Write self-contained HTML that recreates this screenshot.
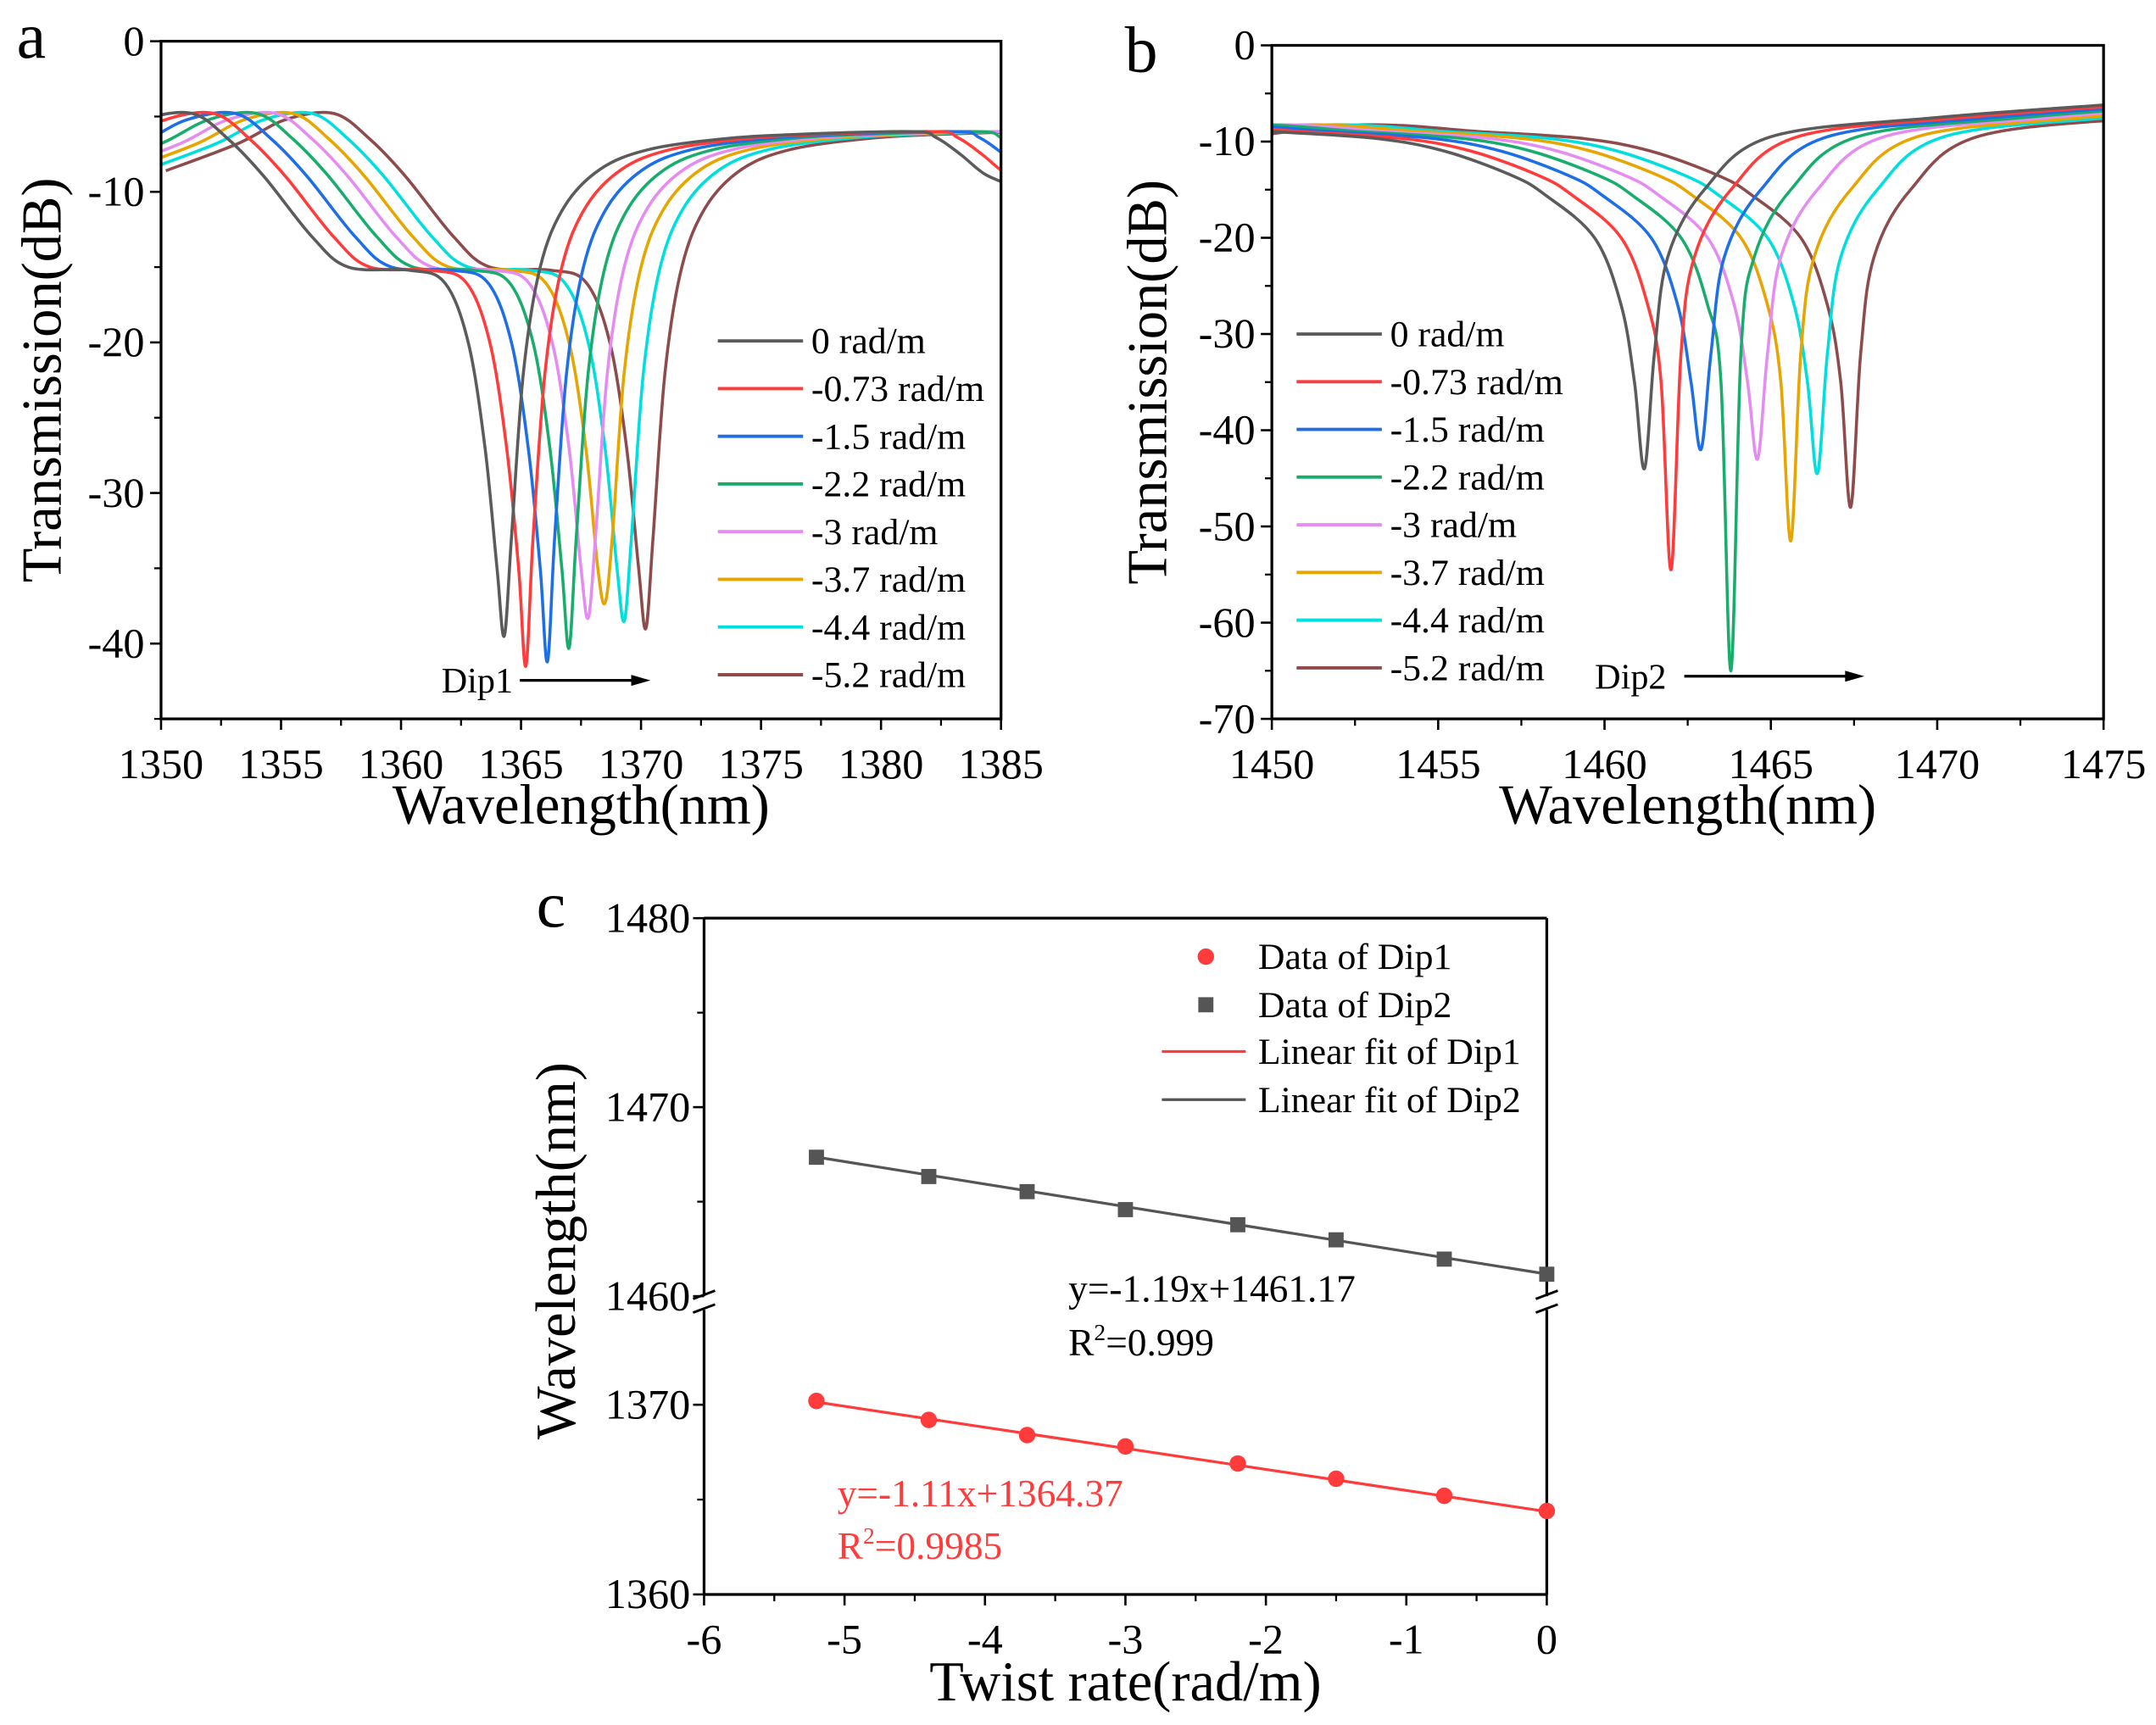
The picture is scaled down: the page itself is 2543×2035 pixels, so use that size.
<!DOCTYPE html>
<html><head><meta charset="utf-8"><style>
html,body{margin:0;padding:0;background:#fff;}
svg{display:block;}
svg text{font-family:"Liberation Serif","DejaVu Serif",serif;}
</style></head><body>
<svg id="fig" width="2543" height="2035" viewBox="0 0 1568 1255" xmlns="http://www.w3.org/2000/svg" font-family="Liberation Serif, serif">
<rect width="1568" height="1255" fill="#fff"/>
<g id="pa"></g>
<g id="pb"></g>
<g id="pc"></g>
</svg>
<script>
// ---- shared data ----
const seriesLabels = ["0 rad/m","-0.73 rad/m","-1.5 rad/m","-2.2 rad/m","-3 rad/m","-3.7 rad/m","-4.4 rad/m","-5.2 rad/m"];
const seriesColors = ["#5b5b5b","#ff3b3b","#1e6fe6","#19ad6d","#e48cf2","#e6a500","#00dede","#8e4b4b"];
// panel a
const aDipCenters = [1364.3,1365.2,1366.1,1367.0,1367.8,1368.5,1369.3,1370.2];
const aDipDepths = [-39.5,-41.5,-41.2,-40.3,-38.3,-37.3,-38.5,-39.0];
const aProfileOffsets = [-20,-17,-15,-13,-11.5,-10,-8,-6.5,-4,-2.5,-1.5,-0.8,-0.3,0,0.3,0.8,1.5,2.5,4,6,9,12,17,18,19,20,21];
const aProfileLevels  = [-8.6,-6.8,-5.2,-4.8,-6.5,-9,-13,-15,-15.2,-16,-20,-27,-35,null,-33,-22,-15,-11,-8.5,-7.2,-6.5,-6.2,-6,-6.4,-7.5,-8.8,-9.5];
const aXTicks = [1350,1355,1360,1365,1370,1375,1380,1385];
const aYTicks = [0,-10,-20,-30,-40];
// panel b
const bDipCenters = [1461.2,1462.0,1462.9,1463.8,1464.6,1465.6,1466.4,1467.4];
const bDipDepths = [-44,-54.5,-42,-65,-43,-51.5,-44.5,-48];
const bProfileOffsets = [-20,-15,-11,-8,-6,-4,-3,-1.5,-0.7,-0.3,0,0.3,0.7,1.8,3.8,8.8,13.8];
const bProfileLevels  = [-10.5,-8.3,-9,-9.7,-11,-13.5,-15.5,-20,-27,-35,null,-32,-22,-15,-9.5,-7.5,-6.2];
const bXTicks = [1450,1455,1460,1465,1470,1475];
const bYTicks = [0,-10,-20,-30,-40,-50,-60,-70];
// panel c
const twistRates = [-5.2,-4.4,-3.7,-3,-2.2,-1.5,-0.73,0];
const dip1Wavelengths = [1370.2,1369.2,1368.4,1367.8,1366.9,1366.1,1365.2,1364.4];
const dip2Wavelengths = [1467.35,1466.33,1465.53,1464.58,1463.78,1462.98,1461.96,1461.16];
const fit1 = [-1.11,1364.37];
const fit2 = [-1.19,1461.17];
const cXTicks = [-6,-5,-4,-3,-2,-1,0];
const cYTicksUpper = [1480,1470,1460];
const cYTicksLower = [1370,1360];

const NS="http://www.w3.org/2000/svg";
const TICK=31, LEG=27, TITLE=41, LET=48;
function mk(parent,tag,attrs,text){const e=document.createElementNS(NS,tag);for(const k in attrs)e.setAttribute(k,attrs[k]);if(text!==undefined)e.textContent=text;parent.appendChild(e);return e;}
function smooth(pts){let d="M"+pts[0][0].toFixed(2)+","+pts[0][1].toFixed(2);for(let i=0;i<pts.length-1;i++){const p0=pts[i-1]||pts[i],p1=pts[i],p2=pts[i+1],p3=pts[i+2]||p2;const c1=[p1[0]+(p2[0]-p0[0])/6,p1[1]+(p2[1]-p0[1])/6],c2=[p2[0]-(p3[0]-p1[0])/6,p2[1]-(p3[1]-p1[1])/6];d+=" C"+c1[0].toFixed(2)+","+c1[1].toFixed(2)+" "+c2[0].toFixed(2)+","+c2[1].toFixed(2)+" "+p2[0].toFixed(2)+","+p2[1].toFixed(2);}return d;}

function spectrumPanel(g,o){
  const {x0,x1,y0,y1,xmin,xmax,ymin,ymax}=o;
  const X=v=>x0+(v-xmin)/(xmax-xmin)*(x1-x0);
  const Y=v=>y0+(ymax-v)/(ymax-ymin)*(y1-y0);
  const clip=mk(g,"clipPath",{id:o.id+"clip"});mk(clip,"rect",{x:x0,y:y0,width:x1-x0,height:y1-y0});
  const cg=mk(g,"g",{"clip-path":"url(#"+o.id+"clip)"});
  for(let s=o.centers.length-1;s>=0;s--){
    const pts=[];
    for(let i=0;i<o.offsets.length;i++){const lv=o.levels[i]===null?o.depths[s]:o.levels[i];pts.push([X(o.centers[s]+o.offsets[i]),Y(lv)]);}
    const p=mk(cg,"path",{d:smooth(pts),fill:"none",stroke:seriesColors[s],"stroke-width":2.2,"stroke-linejoin":"round"});
    
    
  }
  const fr=mk(g,"rect",{x:x0,y:y0,width:x1-x0,height:y1-y0,fill:"none",stroke:"#000","stroke-width":2});
  
  o.xt.forEach((v,i)=>{const x=X(v);mk(g,"line",{x1:x,x2:x,y1:y1,y2:y1+8,stroke:"#000","stroke-width":1.6});
    if(i<o.xt.length-1){const xm=X(v+(o.xt[1]-o.xt[0])/2);mk(g,"line",{x1:xm,x2:xm,y1:y1,y2:y1+5,stroke:"#000","stroke-width":1.4});}
    const t=mk(g,"text",{x:x,y:y1+43,"text-anchor":"middle","font-size":TICK},String(v));
    });
  o.yt.forEach((v,i)=>{const y=Y(v);mk(g,"line",{x1:x0-8,x2:x0,y1:y,y2:y,stroke:"#000","stroke-width":1.6});
    const ym=Y(v-5);if(v-5>=ymin)mk(g,"line",{x1:x0-5,x2:x0,y1:ym,y2:ym,stroke:"#000","stroke-width":1.4});
    const t=mk(g,"text",{x:x0-12,y:y+10,"text-anchor":"end","font-size":TICK},String(v));
    });
  const xt=mk(g,"text",{x:(x0+x1)/2,y:y1+76,"text-anchor":"middle","font-size":TITLE},"Wavelength(nm)");
  
  const yt=mk(g,"text",{x:0,y:0,"text-anchor":"middle","font-size":TITLE,transform:"translate("+(o.ytx)+","+((y0+y1)/2)+") rotate(-90)"},"Transmission(dB)");
  
  const pl=mk(g,"text",{x:o.lx,y:o.ly,"font-size":LET},o.letter);
  
  seriesLabels.forEach((lab,i)=>{const y=o.legY+i*o.legStep;
    const lg=mk(g,"g",{});
    mk(lg,"line",{x1:o.legX,x2:o.legX+62,y1:y,y2:y,stroke:seriesColors[i],"stroke-width":2.4});
    mk(lg,"text",{x:o.legX+68,y:y+9,"font-size":LEG},lab);});
  const dl=mk(g,"text",{x:o.dipX,y:o.dipY+9,"font-size":26},o.dipLabel);
  
  const ar=mk(g,"g",{});
  mk(ar,"line",{x1:o.arX0,x2:o.arX1-10,y1:o.dipY,y2:o.dipY,stroke:"#000","stroke-width":2});
  mk(ar,"polygon",{points:(o.arX1)+","+o.dipY+" "+(o.arX1-14)+","+(o.dipY-4)+" "+(o.arX1-14)+","+(o.dipY+4),fill:"#000"});
}

spectrumPanel(document.getElementById("pa"),{id:"a",x0:117,x1:728,y0:30,y1:523,xmin:1350,xmax:1385,ymin:-45,ymax:0,
  centers:aDipCenters,depths:aDipDepths,offsets:aProfileOffsets,levels:aProfileLevels,xt:aXTicks,yt:aYTicks,
  ytx:44,lx:12,ly:42,letter:"a",legX:522,legY:248,legStep:34.7,dipX:321,dipY:495,dipLabel:"Dip1",arX0:378,arX1:473});
spectrumPanel(document.getElementById("pb"),{id:"b",x0:925,x1:1530,y0:33,y1:523,xmin:1450,xmax:1475,ymin:-70,ymax:0,
  centers:bDipCenters,depths:bDipDepths,offsets:bProfileOffsets,levels:bProfileLevels,xt:bXTicks,yt:bYTicks,
  ytx:848,lx:818,ly:52,letter:"b",legX:943,legY:243,legStep:34.7,dipX:1160,dipY:492,dipLabel:"Dip2",arX0:1225,arX1:1356});

// ---- panel c ----
(function(){
  const g=document.getElementById("pc");
  const x0=512,x1=1125,yT=668,yB=1160;
  const X=v=>x0+(v+6)/6*(x1-x0);
  const Y=v=>v>=1420?943-(v-1460)*13.75:1160-(v-1360)*13.8;
  const yBrkU=943,yBrkL=953;
  [x0,x1].forEach(a=>{mk(g,"line",{x1:a,x2:a,y1:yT,y2:yBrkU,stroke:"#000","stroke-width":2});mk(g,"line",{x1:a,x2:a,y1:yBrkL,y2:yB,stroke:"#000","stroke-width":2});
    mk(g,"line",{x1:a-8,x2:a+8,y1:yBrkU+2,y2:yBrkU-4,stroke:"#000","stroke-width":1.8});mk(g,"line",{x1:a-8,x2:a+8,y1:yBrkL+2,y2:yBrkL-4,stroke:"#000","stroke-width":1.8});});
  mk(g,"line",{x1:x0,x2:x1,y1:yT,y2:yT,stroke:"#000","stroke-width":2});
  mk(g,"line",{x1:x0,x2:x1,y1:yB,y2:yB,stroke:"#000","stroke-width":2});
  cXTicks.forEach((v,i)=>{const x=X(v);mk(g,"line",{x1:x,x2:x,y1:yB,y2:yB+8,stroke:"#000","stroke-width":1.6});
    if(i<cXTicks.length-1){const xm=X(v+0.5);mk(g,"line",{x1:xm,x2:xm,y1:yB,y2:yB+5,stroke:"#000","stroke-width":1.4});}
    const t=mk(g,"text",{x:x,y:yB+43,"text-anchor":"middle","font-size":TICK},String(v));
    });
  cYTicksUpper.concat(cYTicksLower).forEach(v=>{const y=Y(v);mk(g,"line",{x1:x0-8,x2:x0,y1:y,y2:y,stroke:"#000","stroke-width":1.6});
    const t=mk(g,"text",{x:x0-10,y:y+10,"text-anchor":"end","font-size":TICK},String(v));
    });
  [1475,1465,1365].forEach(v=>{const y=Y(v);mk(g,"line",{x1:x0-5,x2:x0,y1:y,y2:y,stroke:"#000","stroke-width":1.4});});
  [[fit1,"#ff3b3b","linear-fit-dip1"],[fit2,"#555","linear-fit-dip2"]].forEach(([f,c,n])=>{
    const xa=twistRates[0],xb=twistRates[twistRates.length-1];
    const l=mk(g,"line",{x1:X(xa),y1:Y(f[0]*xa+f[1]),x2:X(xb),y2:Y(f[0]*xb+f[1]),stroke:c,"stroke-width":2});
    });
  twistRates.forEach((r,i)=>{
    const c=mk(g,"circle",{cx:X(r),cy:Y(dip1Wavelengths[i]),r:6,fill:"#ff3b3b"});
    
    const s=mk(g,"rect",{x:X(r)-5.5,y:Y(dip2Wavelengths[i])-5.5,width:11,height:11,fill:"#555"});
    });
  const lg=[["circle","Data of Dip1",696],["square","Data of Dip2",731],["red","Linear fit of Dip1",765],["gray","Linear fit of Dip2",800]];
  lg.forEach(([k,t,y])=>{const e=mk(g,"g",{});
    if(k==="circle")mk(e,"circle",{cx:877,cy:y,r:6,fill:"#ff3b3b"});
    else if(k==="square")mk(e,"rect",{x:871.5,y:y-5.5,width:11,height:11,fill:"#555"});
    else mk(e,"line",{x1:845,x2:906,y1:y,y2:y,stroke:k==="red"?"#ff3b3b":"#555","stroke-width":2});
    mk(e,"text",{x:915,y:y+9,"font-size":LEG},t);});
  const eq=(x,y,txt,col,n)=>{const t=mk(g,"text",{x:x,y:y,"font-size":28,fill:col});t.innerHTML=txt;};
  eq(777,947,"y=-1.19x+1461.17","#000","dip2-equation");
  eq(777,986,'R<tspan dy="-11" font-size="17">2</tspan><tspan dy="11">=0.999</tspan>',"#000","dip2-r2");
  eq(609,1096,"y=-1.11x+1364.37","#ff3b3b","dip1-equation");
  eq(609,1134,'R<tspan dy="-11" font-size="17">2</tspan><tspan dy="11">=0.9985</tspan>',"#ff3b3b","dip1-r2");
  const xt=mk(g,"text",{x:(x0+x1)/2,y:1237,"text-anchor":"middle","font-size":TITLE},"Twist rate(rad/m)");
  
  const yt=mk(g,"text",{x:0,y:0,"text-anchor":"middle","font-size":TITLE,transform:"translate(418,910) rotate(-90)"},"Wavelength(nm)");
  
  const pl=mk(g,"text",{x:390,y:674,"font-size":LET},"c");
  
})();
</script>
</body></html>
